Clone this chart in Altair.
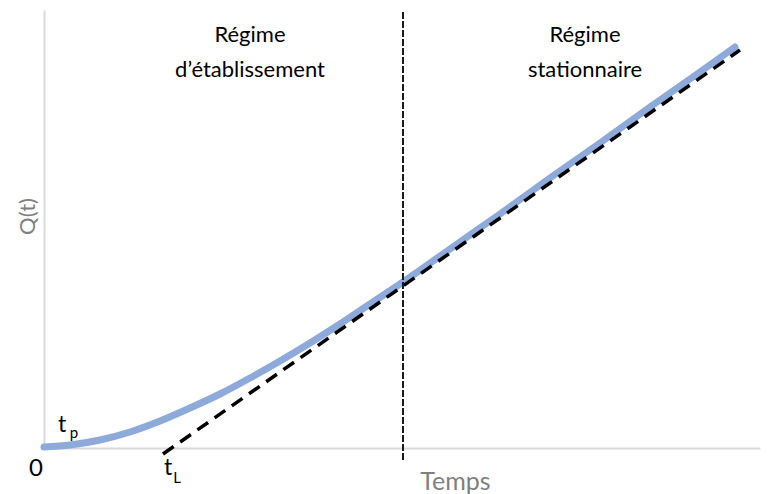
import altair as alt
import pandas as pd

# Courbe Q(t) (temps, quantité)
t_curve = [0, 26, 56, 86, 116, 146, 176, 206, 236, 266, 296, 326, 359, 406, 456, 506, 556, 606, 656, 691]
q_curve = [1, 3, 8, 16, 27, 40, 54, 70, 87, 105, 124, 144, 166, 199, 234, 270, 305, 341, 376, 401]

# Asymptote du régime stationnaire
t_tangent = [119, 696]
q_tangent = [-6, 398]

# Frontière entre les régimes
t_boundary = [359]
q_boundary_low = [-12]
q_boundary_high = [438]

T_MAX = 716
Q_MAX = 438

FONT = "Lato"
BLUE = "#8eaadb"

curve_df = pd.DataFrame({"t": t_curve, "q": q_curve})
tan_df = pd.DataFrame({"t": t_tangent, "q": q_tangent})
bound_df = pd.DataFrame({"t": t_boundary, "q1": q_boundary_low, "q2": q_boundary_high})

xscale = alt.Scale(domain=[0, T_MAX], nice=False, zero=False)
yscale = alt.Scale(domain=[0, Q_MAX], nice=False, zero=False)

xaxis = alt.Axis(
    title="Temps", labels=False, ticks=False, grid=False,
    domainColor="#d9d9d9", domainWidth=2,
    titleFont=FONT, titleFontSize=25, titleFontWeight="normal", titleColor="#7f7f7f",
    titleX=411, titleY=33, titleAlign="center", titleBaseline="middle",
)
yaxis = alt.Axis(
    title="Q(t)", labels=False, ticks=False, grid=False,
    domainColor="#d9d9d9", domainWidth=2,
    titleFont=FONT, titleFontSize=22, titleFontWeight="normal", titleColor="#7f7f7f",
    titleX=-17, titleY=206, titleAngle=270, titleAlign="center", titleBaseline="middle",
)

curve = alt.Chart(curve_df).mark_line(
    color=BLUE, strokeWidth=7, strokeCap="round", interpolate="monotone"
).encode(
    x=alt.X("t:Q", scale=xscale, axis=xaxis),
    y=alt.Y("q:Q", scale=yscale, axis=yaxis),
)

tangent = alt.Chart(tan_df).mark_line(
    color="black", strokeWidth=3.5, strokeDash=[13, 8]
).encode(
    x=alt.X("t:Q", scale=xscale),
    y=alt.Y("q:Q", scale=yscale),
)

boundary = alt.Chart(bound_df).mark_rule(
    color="#1a1a1a", strokeWidth=2, strokeDash=[7, 2]
).encode(
    x=alt.X("t:Q", scale=xscale),
    y=alt.Y("q1:Q", scale=yscale),
    y2="q2:Q",
)


def label(text, x, y, size=22, color="black", align="center"):
    return alt.Chart(curve_df).transform_filter("datum.t == 0").mark_text(
        text=text, font=FONT, fontSize=size, color=color, align=align, baseline="middle"
    ).encode(x=alt.value(x), y=alt.value(y))


labels = [
    label("Régime", 206, 25),
    label("d’établissement", 206, 60),
    label("Régime", 541, 25),
    label("stationnaire", 541, 60),
    label("0", -8, 459, 24),
    label("t", 18, 415, 23),
    label("p", 30, 423, 15),
    label("t", 124, 458, 23),
    label("L", 133, 468, 15),
]

chart = alt.layer(curve, tangent, boundary, *labels).properties(
    width=716, height=438,
    autosize=alt.AutoSizeParams(type="none"),
    padding={"left": 36, "top": 2, "right": 1, "bottom": 52},
).configure_view(stroke=None)

chart.save("out.html", embed_options={"renderer": "svg", "actions": False})
